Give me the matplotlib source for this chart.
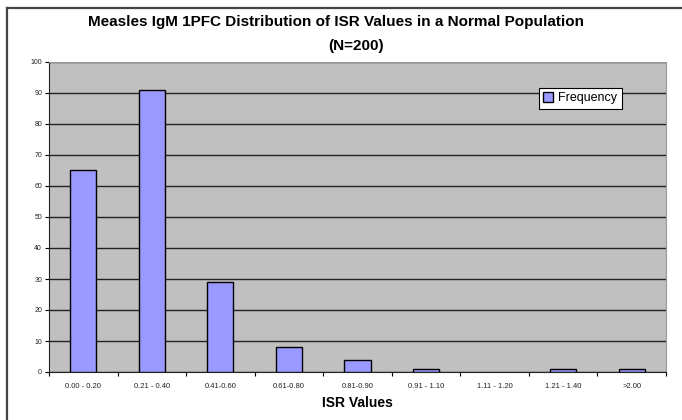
import matplotlib
matplotlib.use("Agg")
import matplotlib.pyplot as plt
from matplotlib.lines import Line2D
import numpy as np

categories = ["0.00 - 0.20", "0.21 - 0.40", "0.41-0.60", "0.61-0.80", "0.81-0.90",
              "0.91 - 1.10", "1.11 - 1.20", "1.21 - 1.40", ">2.00"]
frequency = [65, 91, 29, 8, 4, 1, 0, 1, 1]
yticks = list(range(0, 101, 10))

W, H = 682, 420
fig = plt.figure(figsize=(W / 100, H / 100), dpi=100)
fig.patch.set_facecolor("white")

narrow = ["Liberation Sans Narrow", "Liberation Sans", "DejaVu Sans"]

# figure border (left and top visible)
fig.add_artist(Line2D([7 / W, 7 / W], [0, 1 - 8 / H], color="#444444", lw=1.6, transform=fig.transFigure))
fig.add_artist(Line2D([7 / W, 1.0], [1 - 8 / H, 1 - 8 / H], color="#444444", lw=1.6, transform=fig.transFigure))

left, right, top, bottom = 49, 666, 62, 372
ax = fig.add_axes([left / W, 1 - bottom / H, (right - left) / W, (bottom - top) / H])
ax.set_facecolor("#C0C0C0")

x = np.arange(len(categories))
lws = [1.0 if v > 0 else 0 for v in frequency]
ax.bar(x, frequency, width=0.38, color="#9999FF", edgecolor="black", linewidth=lws,
       label="Frequency", zorder=3)

ax.set_xlim(-0.5, len(categories) - 0.5)
ax.set_ylim(0, 100)
ax.set_yticks(yticks)
ax.set_yticklabels([str(v) for v in yticks], fontsize=5, family=narrow, color="#222222")
ax.yaxis.grid(True, color="#222222", lw=1.0, zorder=1)
ax.set_axisbelow(True)

ax.set_xticks(x)
ax.set_xticklabels(categories, fontsize=5.5, family=narrow, color="#222222")
ax.set_xticks(np.arange(len(categories) + 1) - 0.5, minor=True)
ax.tick_params(axis="x", which="major", length=0, pad=8)
ax.tick_params(axis="x", which="minor", length=3, width=0.8, direction="out")
ax.tick_params(axis="y", length=3, width=0.8, direction="out", pad=2)

for s in ["top", "right"]:
    ax.spines[s].set_color("#999999")
    ax.spines[s].set_linewidth(0.8)
ax.spines["left"].set_color("#222222")
ax.spines["bottom"].set_color("#222222")

ax.set_xlabel("ISR Values", fontsize=10, fontweight="bold", family=narrow, labelpad=4)

leg = ax.legend(loc="upper left", bbox_to_anchor=((539 - left) / (right - left), 1 - (88 - top) / (bottom - top)),
                frameon=True, fancybox=False, edgecolor="black", framealpha=1,
                prop={"family": narrow, "size": 9}, handlelength=0.8, handleheight=0.8,
                handletextpad=0.4, borderpad=0.35, borderaxespad=0)
leg.get_frame().set_linewidth(0.8)

fig.text(336 / W, 1 - 22 / H, "Measles IgM 1PFC Distribution of ISR Values in a Normal Population",
         ha="center", va="center", fontsize=11, fontweight="bold", family=narrow)
fig.text(356 / W, 1 - 46 / H, "(N=200)", ha="center", va="center", fontsize=11,
         fontweight="bold", family=narrow)

fig.savefig("out.png", dpi=100)
